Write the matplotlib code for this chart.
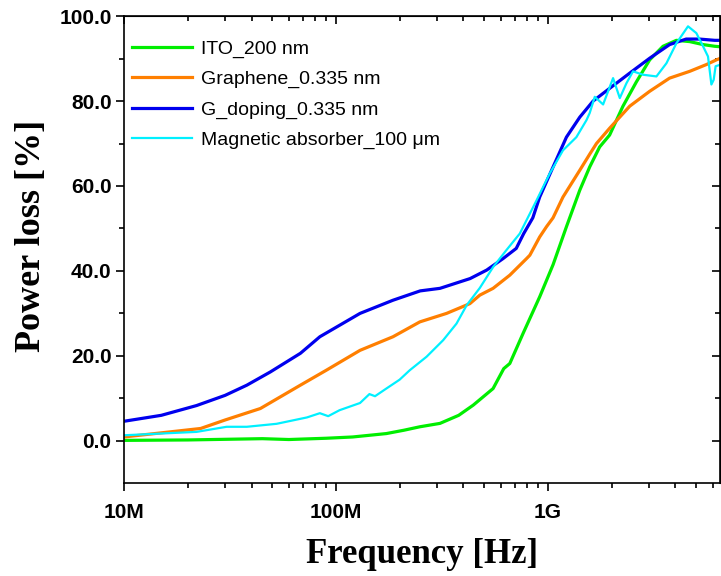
import matplotlib
matplotlib.use("Agg")
import matplotlib.pyplot as plt
import numpy as np
from matplotlib.ticker import FixedLocator, FixedFormatter, LogLocator, NullFormatter, FormatStrFormatter

# frequency in MHz, power loss in %
ito_f = [10, 20, 45, 60, 90, 120, 173, 210, 249, 310, 380, 445, 552, 620, 662, 765, 916,
         1060, 1225, 1416, 1578, 1758, 1959, 2265, 2619, 3027, 3500, 4047, 4677, 5407, 6138, 6470]
ito_v = [0.1, 0.2, 0.5, 0.3, 0.6, 0.9, 1.7, 2.5, 3.3, 4.1, 6.0, 8.4, 12.3, 17.0, 18.2, 25.3, 33.9,
         41.5, 50.4, 59.0, 64.5, 69.2, 72.0, 78.8, 84.5, 89.7, 92.9, 94.3, 94.0, 93.3, 92.9, 92.8]

gra_f = [10, 23, 30, 44, 68, 90, 130, 186, 249, 333, 429, 478, 552, 662, 794, 823, 916, 986,
         1059, 1180, 1416, 1578, 1698, 1959, 2438, 3027, 3758, 4677, 5610, 6250, 6470]
gra_v = [0.9, 2.9, 4.9, 7.6, 13.1, 16.6, 21.3, 24.5, 28.0, 30.0, 32.3, 34.3, 35.9, 39.0, 42.9, 43.7, 48.0, 50.4,
         52.5, 57.4, 63.7, 67.5, 70.0, 73.6, 78.8, 82.3, 85.4, 87.0, 88.6, 89.7, 90.0]

gdop_f = [10, 15, 22, 30, 38, 49, 68, 84, 130, 186, 250, 310, 430, 515, 615, 710, 770, 850, 916,
          1060, 1225, 1416, 1637, 1960, 2440, 3030, 3760, 4500, 5200, 6140, 6470]
gdop_v = [4.6, 6.0, 8.3, 10.7, 13.1, 16.2, 20.6, 24.5, 30.0, 33.1, 35.3, 35.9, 38.2, 40.2, 42.9, 45.3, 48.8, 52.5, 57.4,
          64.5, 71.5, 76.2, 80.0, 83.0, 86.6, 90.1, 93.3, 94.6, 94.6, 94.3, 94.3]

mag_f = [10, 22, 30.5, 38, 52.5, 73, 84, 92, 104, 130, 144, 153, 173, 200, 223, 268, 321, 371, 414,
         478, 552, 638, 738, 885, 1021, 1180, 1365, 1523, 1578, 1667, 1825, 2034, 2188, 2352, 2526,
         2815, 3258, 3632, 4047, 4592, 5028, 5407, 5706, 5921, 6069, 6198, 6470]
mag_v = [1.3, 2.1, 3.3, 3.3, 4.0, 5.5, 6.5, 5.8, 7.2, 8.9, 11.0, 10.5, 12.3, 14.4, 16.6, 19.8, 23.7, 27.6, 31.9,
         36.0, 40.9, 44.9, 48.8, 56.6, 62.9, 68.4, 71.5, 75.5, 77.2, 81.0, 79.2, 85.4, 80.7, 84.2, 87.0,
         86.2, 85.8, 88.9, 93.6, 97.6, 96.0, 92.9, 90.5, 83.9, 85.0, 88.2, 88.5]

labels = ["ITO_200 nm", "Graphene_0.335 nm", "G_doping_0.335 nm", "Magnetic absorber_100 \u03bcm"]
xticks = [1e7, 1e8, 1e9]
xtick_labels = ["10M", "100M", "1G"]
yticks = [0, 20, 40, 60, 80, 100]
yminor = [10, 30, 50, 70, 90]

plt.rcParams["font.family"] = ["Liberation Sans", "DejaVu Sans"]

fig = plt.figure(figsize=(7.21, 5.76), dpi=100)
ax = fig.add_axes([0.172, 0.161, 0.826, 0.811])

mhz = 1e6
ax.plot(np.array(ito_f) * mhz, ito_v, color="#00EE00", lw=2.3, label=labels[0])
ax.plot(np.array(gra_f) * mhz, gra_v, color="#FF7F00", lw=2.3, label=labels[1])
ax.plot(np.array(gdop_f) * mhz, gdop_v, color="#0000EE", lw=2.3, label=labels[2])
ax.plot(np.array(mag_f) * mhz, mag_v, color="#00F0FF", lw=1.6, label=labels[3])

ax.set_xscale("log")
ax.set_xlim(1e7, 6.47e9)
ax.set_ylim(-10, 100)

ax.xaxis.set_major_locator(FixedLocator(xticks))
ax.xaxis.set_major_formatter(FixedFormatter(xtick_labels))
ax.xaxis.set_minor_locator(LogLocator(base=10, subs=np.arange(2, 10)))
ax.xaxis.set_minor_formatter(NullFormatter())
ax.yaxis.set_major_locator(FixedLocator(yticks))
ax.yaxis.set_major_formatter(FormatStrFormatter("%.1f"))
ax.yaxis.set_minor_locator(FixedLocator(yminor))

for s in ax.spines.values():
    s.set_linewidth(1.2)
ax.tick_params(which="major", direction="out", length=6, width=1.2, labelsize=15, pad=3)
ax.tick_params(which="minor", direction="out", length=3.5, width=1.2)
ax.tick_params(axis="x", which="major", pad=8)
for lab in ax.get_xticklabels() + ax.get_yticklabels():
    lab.set_fontweight("bold")

# mirrored ticks on top and right, pointing inward
top = ax.secondary_xaxis("top")
top.xaxis.set_major_locator(FixedLocator(xticks))
top.xaxis.set_minor_locator(LogLocator(base=10, subs=np.arange(2, 10)))
top.tick_params(which="both", direction="in", width=1.2, labeltop=False)
top.tick_params(which="major", length=6)
top.tick_params(which="minor", length=3.5)
right = ax.secondary_yaxis("right")
right.yaxis.set_major_locator(FixedLocator(yticks))
right.yaxis.set_minor_locator(FixedLocator(yminor))
right.tick_params(which="both", direction="in", width=1.2, labelright=False)
right.tick_params(which="major", length=6)
right.tick_params(which="minor", length=3.5)

ax.set_xlabel("Frequency [Hz]", family=["Liberation Serif"], fontweight="bold", fontsize=25, labelpad=12)
ax.set_ylabel("Power loss [%]", family=["Liberation Serif"], fontweight="bold", fontsize=26)
ax.yaxis.set_label_coords(-0.128, 0.53)

ax.legend(loc="upper left", bbox_to_anchor=(0.0, 0.966), frameon=False, fontsize=14,
          handlelength=3.1, handletextpad=0.45, labelspacing=0.66, borderaxespad=0.0)

fig.savefig("out.png", dpi=100)
